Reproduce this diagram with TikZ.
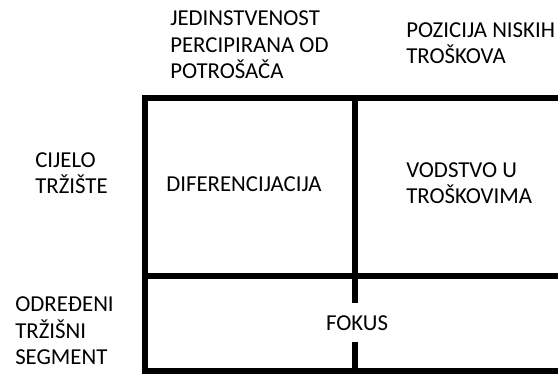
\documentclass[tikz,border=0pt]{standalone}
\usepackage{fontspec}
\setmainfont{Carlito}
\usepackage{tikz}

\tikzset{
  lbl/.style={anchor=base west, inner sep=0pt, align=left,
    font=\fontsize{17.1pt}{19.9pt}\selectfont},
  grid/.style={line width=4.9pt, line join=miter},
}

\begin{document}
\begin{tikzpicture}[x=0.75pt,y=0.75pt,yscale=-1,xscale=1]
\useasboundingbox (0,0) rectangle (558,374);

%Corner points of the matrix
\coordinate (tl) at (145,98);
\coordinate (tr) at (572,98);
\coordinate (ml) at (145,276);
\coordinate (mr) at (572,276);
\coordinate (bl) at (145,371.5);
\coordinate (br) at (572,371.5);
\coordinate (low) at (145,380);
\coordinate (vt) at (355,98);
\coordinate (vb) at (355,380);

%Straight Lines
\draw [grid] (tr) -- (tl) -- (low) ;
\draw [grid] (ml) -- (mr) ;
\draw [grid] (bl) -- (br) ;
\draw [grid] (vt) -- (355,303) ;
\draw [grid] (355,342) -- (vb) ;

% Text Node (base = last line)
\node [lbl] (jed) at (170,79) {JEDINSTVENOST\\PERCIPIRANA OD\\POTROŠAČA};
% Text Node
\node [lbl] (poz) at (406,64) {POZICIJA NISKIH\\TROŠKOVA};
% Text Node
\node [lbl] (cijelo) at (35,194) {CIJELO\\TRŽIŠTE};
% Text Node
\node [lbl] (odredeni) at (15,365) {ODREĐENI\\TRŽIŠNI\\SEGMENT};
% Text Node
\node [lbl] (dif) at (166,192) {DIFERENCIJACIJA};
% Text Node
\node [lbl] (vod) at (406,204) {VODSTVO U\\TROŠKOVIMA};
% Text Node
\node [lbl, anchor=base] (fokus) at (357,331) {FOKUS};

\end{tikzpicture}
\end{document}
